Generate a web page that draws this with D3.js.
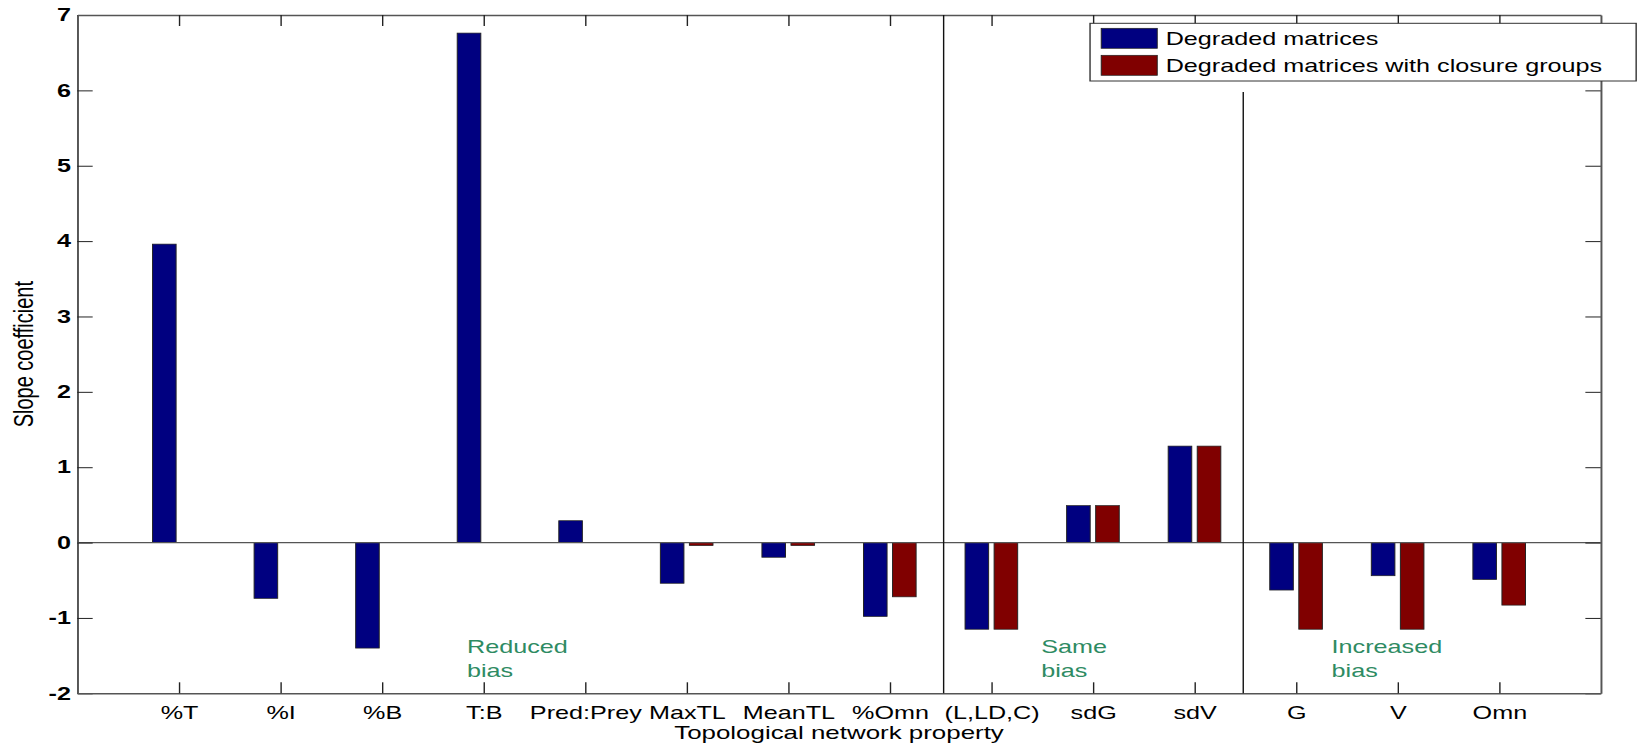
<!DOCTYPE html>
<html>
<head>
<meta charset="utf-8">
<script src="https://cdn.jsdelivr.net/npm/d3@7"></script>
<style>
  html, body { margin: 0; padding: 0; background: #fff; }
  svg { display: block; font-family: "Liberation Sans", Arial, sans-serif; }
</style>
</head>
<body>
<div id="chart"></div>
<script>
// Slope coefficients per topological property, two series of grouped bars
const categories = ["%T", "%I", "%B", "T:B", "Pred:Prey", "MaxTL", "MeanTL", "%Omn",
                    "(L,LD,C)", "sdG", "sdV", "G", "V", "Omn"];
const degraded = [3.96, -0.74, -1.40, 6.76, 0.29, -0.54, -0.195, -0.98,
                  -1.15, 0.49, 1.28, -0.63, -0.44, -0.49];
const closure = [0, 0, 0, 0, 0, -0.04, -0.04, -0.72,
                 -1.15, 0.49, 1.28, -1.15, -1.15, -0.83];
const seriesNames = ["Degraded matrices", "Degraded matrices with closure groups"];
const yTicks = [-2, -1, 0, 1, 2, 3, 4, 5, 6, 7];
const groupBreaks = [8.53, 11.48];
const biasLabels = [["Reduced", "bias"], ["Same", "bias"], ["Increased", "bias"]];

(function() {
  "use strict";

  // the picture is a stretched figure: draw in figure units, then stretch horizontally
  const W = 1637, H = 744, SX = 1.4;
  const VW = W / SX;
  const colors = ["#000080", "#800000"];

  const svg = d3.select("#chart").append("svg")
      .attr("width", W)
      .attr("height", H)
      .attr("viewBox", [0, 0, VW, H])
      .attr("preserveAspectRatio", "none")
      .style("font-size", "18px");

  const left = 55.2, right = 1143.4, top = 15, bottom = 693.3;

  const x = d3.scaleLinear().domain([0, 15]).range([left, right]);
  const y = d3.scaleLinear().domain([-2, 7]).range([bottom, top]);
  const unit = x(1) - x(0);

  // bars (MATLAB-like grouped offsets)
  const offset = 0.143, bw = 0.232;
  [degraded, closure].forEach((vals, s) => {
    svg.append("g")
      .selectAll("rect")
      .data(vals.map((v, i) => ({ v, i })).filter(d => d.v !== 0))
      .join("rect")
        .attr("x", d => x(d.i + 1 + (s === 0 ? -offset : offset)) - bw * unit / 2)
        .attr("width", bw * unit)
        .attr("y", d => y(Math.max(0, d.v)))
        .attr("height", d => Math.abs(y(d.v) - y(0)))
        .attr("fill", colors[s])
        .attr("stroke", "#222")
        .attr("stroke-width", 0.7);
  });

  // zero baseline
  svg.append("line")
      .attr("x1", left).attr("x2", right)
      .attr("y1", y(0)).attr("y2", y(0))
      .attr("stroke", "#555").attr("stroke-width", 1.2);

  // axes, ticks pointing inward on all four sides
  const styleAxis = g => {
    g.select(".domain").attr("stroke", "#555").attr("stroke-width", 1.4);
    g.selectAll(".tick line").attr("stroke", "#222").attr("stroke-width", 1);
  };

  svg.append("g")
      .attr("transform", `translate(${left},0)`)
      .call(d3.axisLeft(y).tickValues(yTicks).tickSize(-11).tickSizeOuter(0).tickPadding(4.5)
        .tickFormat(d => String(d)))
      .call(styleAxis)
      .call(g => g.selectAll(".tick text")
        .attr("fill", "#000").attr("font-weight", "bold")
        .style("font-size", "18px").style("font-family", "Liberation Sans, Arial, sans-serif"));

  svg.append("g")
      .attr("transform", `translate(${right},0)`)
      .call(d3.axisRight(y).tickValues(yTicks).tickSize(-11).tickSizeOuter(0).tickFormat(""))
      .call(styleAxis);

  svg.append("g")
      .attr("transform", `translate(0,${bottom})`)
      .call(d3.axisBottom(x).tickValues(d3.range(1, 15)).tickSize(-11).tickSizeOuter(0)
        .tickPadding(13).tickFormat(i => categories[i - 1]))
      .call(styleAxis)
      .call(g => g.selectAll(".tick text")
        .attr("fill", "#000")
        .style("font-size", "18px").style("font-family", "Liberation Sans, Arial, sans-serif"));

  svg.append("g")
      .attr("transform", `translate(0,${top})`)
      .call(d3.axisTop(x).tickValues(d3.range(1, 15)).tickSize(-11).tickSizeOuter(0).tickFormat(""))
      .call(styleAxis);

  // axis titles
  svg.append("text")
      .attr("x", (left + right) / 2)
      .attr("y", 739)
      .attr("text-anchor", "middle")
      .style("font-size", "18.5px")
      .text("Topological network property");

  svg.append("text")
      .attr("transform", `translate(23.5,${(top + bottom) / 2}) rotate(-90)`)
      .attr("text-anchor", "middle")
      .style("font-size", "20px")
      .text("Slope coefficient");

  // group separators
  svg.append("line")
      .attr("x1", x(groupBreaks[0])).attr("x2", x(groupBreaks[0]))
      .attr("y1", top).attr("y2", bottom)
      .attr("stroke", "#111").attr("stroke-width", 1);
  svg.append("line")
      .attr("x1", x(groupBreaks[1])).attr("x2", x(groupBreaks[1]))
      .attr("y1", 92).attr("y2", bottom)
      .attr("stroke", "#111").attr("stroke-width", 1);

  // green group annotations
  const labelX = [3.837, 9.49, 12.35];
  biasLabels.forEach((lines, k) => {
    svg.append("text")
        .attr("x", x(labelX[k]))
        .attr("y", 653)
        .attr("fill", "#2e8b63")
        .selectAll("tspan")
        .data(lines)
        .join("tspan")
          .attr("x", x(labelX[k]))
          .attr("dy", (d, i) => i ? 24 : 0)
          .text(d => d);
  });

  // legend
  const lx = 778.6, ly = 23.3;
  const legend = svg.append("g");
  legend.append("rect")
      .attr("x", lx).attr("y", ly)
      .attr("width", VW - 0.6 - lx).attr("height", 57.7)
      .attr("fill", "#fff").attr("stroke", "#333").attr("stroke-width", 1);
  seriesNames.forEach((name, s) => {
    legend.append("rect")
        .attr("x", lx + 8).attr("y", ly + 5 + s * 27)
        .attr("width", 40).attr("height", 20)
        .attr("fill", colors[s]).attr("stroke", "#222").attr("stroke-width", 0.7);
    legend.append("text")
        .attr("x", lx + 54).attr("y", ly + 21.5 + s * 27)
        .text(name);
  });
})();
</script>
</body>
</html>
